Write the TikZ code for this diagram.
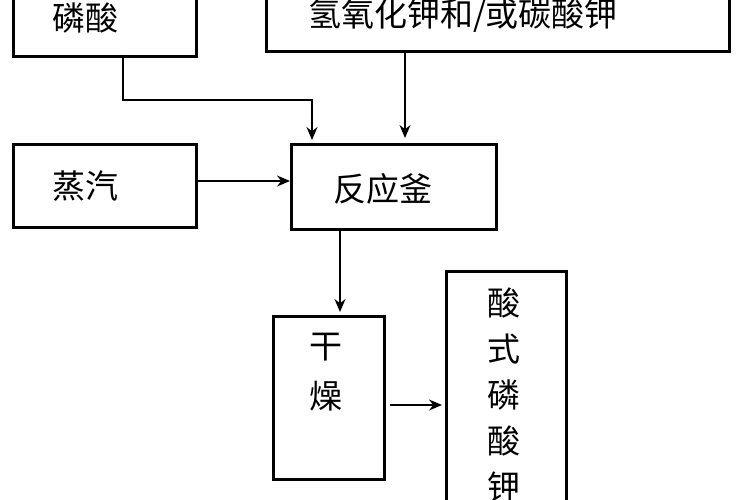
\documentclass[tikz,border=0pt]{standalone}
\usepackage{fontspec}
\newfontfamily\cjk{Noto Sans CJK SC}
\usetikzlibrary{arrows.meta}
\begin{document}
\begin{tikzpicture}[x=1pt,y=-1pt,
  box/.style={draw,line width=3pt,inner sep=0pt,anchor=north west},
  lbl/.style={font=\cjk\fontsize{33}{36}\selectfont,inner sep=0pt},
  arr/.style={line width=1.5pt,-{Stealth[length=13pt,width=11pt]}}]
\useasboundingbox (0,0) rectangle (750,500);
\clip (0,0) rectangle (750,500);
\fill[white] (0,0) rectangle (750,500);
\node[box,minimum width=183pt,minimum height=70pt] (p) at (12,-15) {};
\node[lbl] at (85,18) {磷酸};
\node[box,minimum width=463pt,minimum height=65pt] (k) at (265,-15) {};
\node[lbl] at (463,16) {氢氧化钾和/或碳酸钾};
\node[box,minimum width=183pt,minimum height=83pt] (s) at (12,143) {};
\node[lbl] at (85,186) {蒸汽};
\node[box,minimum width=205pt,minimum height=85pt] (r) at (290,143) {};
\node[lbl] at (383,189) {反应釜};
\node[box,minimum width=111pt,minimum height=163pt] (d) at (272,315) {};
\node[lbl,align=center,font=\cjk\fontsize{33}{50}\selectfont] at (326,372) {干\\燥};
\node[box,minimum width=120pt,minimum height=245pt] (a) at (445,270) {};
\node[lbl,align=center,font=\cjk\fontsize{33}{46}\selectfont] at (504,395) {酸\\式\\磷\\酸\\钾};
\coordinate (pb) at (123,55);
\draw[arr] (pb) |- (312,100) -- (312,140);
\draw[arr] (405,50) -- (405,138);
\draw[arr] (s.east |- 0,181) -- (r.west |- 0,181);
\draw[arr] (340,228) -- (340,312);
\draw[arr] (390,405) -- (442,405);
\end{tikzpicture}
\end{document}
